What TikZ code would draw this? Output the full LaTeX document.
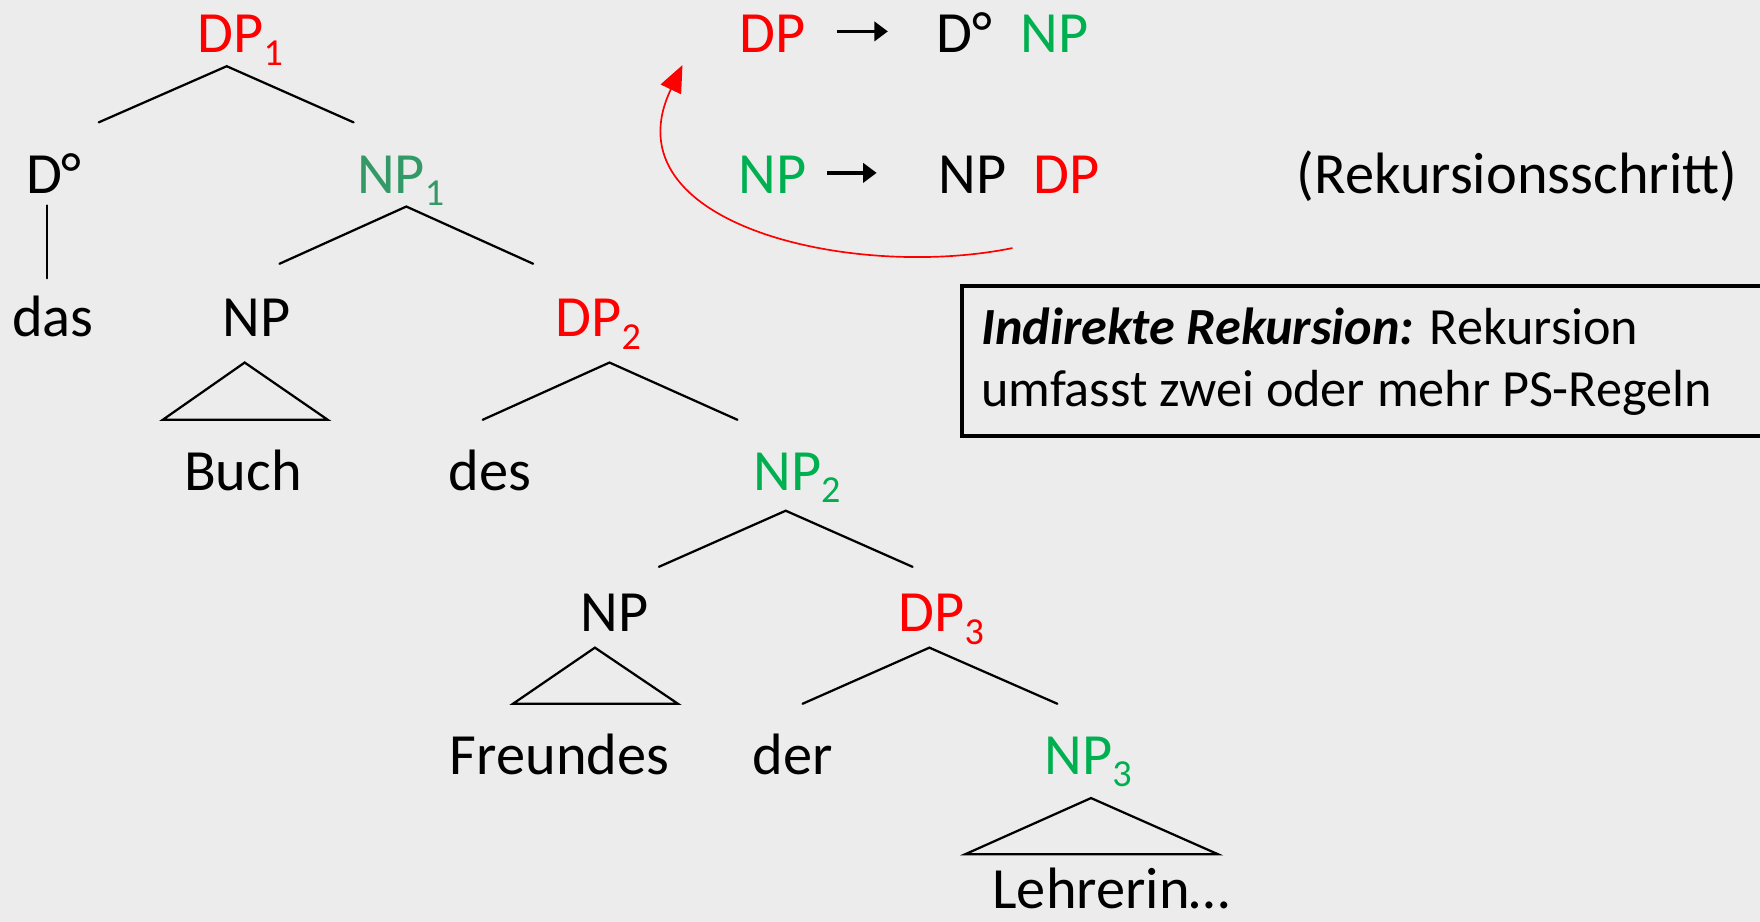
\documentclass[tikz,border=0pt]{standalone}
\usepackage{fontspec}
\setmainfont{Carlito}
\usetikzlibrary{arrows.meta}
\definecolor{bg}{HTML}{ECECEC}
\definecolor{dpred}{HTML}{FF0000}
\definecolor{npgreen}{HTML}{00B050}
\definecolor{npteal}{RGB}{51,153,102}
% lowered index digit for phrase labels
\newcommand\lsub[1]{\raisebox{-11pt}{\fontsize{34}{34}\selectfont #1}}

\begin{document}
\begin{tikzpicture}[x=1pt,y=-1pt,
  lab/.style={anchor=base, inner sep=0pt, font=\fontsize{52}{62}\selectfont},
  dp/.style={lab, text=dpred},
  np/.style={lab, text=npgreen},
  boxtxt/.style={anchor=base west, inner sep=0pt, font=\fontsize{46.5}{56}\selectfont},
  branch/.style={line width=2pt, line cap=round, line join=miter},
  rulearrow/.style={line width=3pt, -{Triangle[length=12pt,width=17pt]}}]
\fill[bg] (0,0) rectangle (1568,821);
\useasboundingbox (0,0) rectangle (1568,821);
\clip (0,0) rectangle (1568,821);

% ---------- tree labels ----------
\node[dp]  (dp1)  at (214,47)  {DP\lsub{1}};
\node[lab] (d0)   at (48,172)  {D°};
\node[lab] (das)  at (47,300)  {das};
\node[lab, text=npteal] (np1) at (357,172) {NP\lsub{1}};
\node[lab] (npa)  at (228.5,300) {NP};
\node[lab] (buch) at (216.5,437) {Buch};
\node[dp]  (dp2)  at (533,300) {DP\lsub{2}};
\node[lab] (des)  at (436.5,437) {des};
\node[np]  (np2)  at (710,437) {NP\lsub{2}};
\node[lab] (npb)  at (547.5,563) {NP};
\node[lab] (freundes) at (498.5,690) {Freundes};
\node[dp]  (dp3)  at (838.5,563) {DP\lsub{3}};
\node[lab] (der)  at (706,690) {der};
\node[np]  (np3)  at (969.5,690) {NP\lsub{3}};
\node[lab] (lehrerin) at (990,809) {Lehrerin…};

% ---------- branch points ----------
\coordinate (dp1t) at (202,59);  \coordinate (dp1l) at (88,109);  \coordinate (dp1r) at (315,109);
\coordinate (d0t)  at (42,183);  \coordinate (d0b)  at (42,248);
\coordinate (np1t) at (362,184); \coordinate (np1l) at (249,235); \coordinate (np1r) at (475,235);
\coordinate (npat) at (218,323); \coordinate (npal) at (145,374); \coordinate (npar) at (292,374);
\coordinate (dp2t) at (543,323); \coordinate (dp2l) at (430,374); \coordinate (dp2r) at (657,374);
\coordinate (np2t) at (700,455); \coordinate (np2l) at (587,505); \coordinate (np2r) at (813,505);
\coordinate (npbt) at (530,577); \coordinate (npbl) at (457,627); \coordinate (npbr) at (604,627);
\coordinate (dp3t) at (828,577); \coordinate (dp3l) at (715,627); \coordinate (dp3r) at (942,627);
\coordinate (np3t) at (972,711); \coordinate (np3l) at (860,761); \coordinate (np3r) at (1085,761);

\draw[branch] (dp1l) -- (dp1t) -- (dp1r);
\draw[branch] (d0t) -- (d0b);
\draw[branch] (np1l) -- (np1t) -- (np1r);
\draw[branch] (npat) -- (npal) -- (npar) -- cycle;
\draw[branch] (dp2l) -- (dp2t) -- (dp2r);
\draw[branch] (np2l) -- (np2t) -- (np2r);
\draw[branch] (npbt) -- (npbl) -- (npbr) -- cycle;
\draw[branch] (dp3l) -- (dp3t) -- (dp3r);
\draw[branch] (np3t) -- (np3l) -- (np3r) -- cycle;

% ---------- phrase structure rules ----------
\node[dp]  (r1l)  at (688,47)   {DP};
\node[lab] (r1d)  at (859,47)   {D°};
\node[np]  (r1n)  at (939.5,47) {NP};
\node[np]  (r2l)  at (688.5,172) {NP};
\node[lab] (r2n)  at (866.5,172) {NP};
\node[dp]  (r2d)  at (950,172)   {DP};
\node[lab] (step) at (1351.5,172) {(Rekursionsschritt)};

\coordinate (a1s) at (746,28); \coordinate (a1e) at (791,28);
\coordinate (a2s) at (737,154); \coordinate (a2e) at (781,154);
\draw[rulearrow] (a1s) -- (a1e);
\draw[rulearrow] (a2s) -- (a2e);

% recursion arrow from the DP of the second rule back to the first rule
\coordinate (cs) at (902,221);
\coordinate (ce) at (608,58);
\draw[dpred, line width=1.5pt, -{Triangle[length=24pt,width=20pt]}]
  (cs) .. controls (760,250) and (540,200) .. (ce);

% ---------- definition box ----------
\node[draw, line width=3.5pt, minimum width=745pt, minimum height=134pt,
      anchor=north west, inner sep=0pt] (defbox) at (855,253) {};
\node[boxtxt] (bx1) at (874,307) {\textbf{\textit{Indirekte Rekursion:}} Rekursion};
\node[boxtxt] (bx2) at (874,362) {umfasst zwei oder mehr PS-Regeln};
\end{tikzpicture}
\end{document}
